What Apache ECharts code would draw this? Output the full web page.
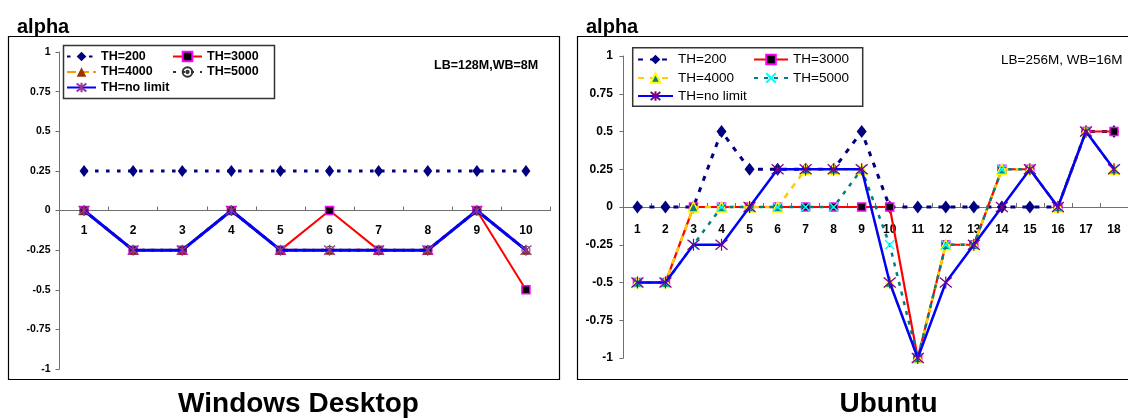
<!DOCTYPE html>
<html>
<head>
<meta charset="utf-8">
<script src="https://cdn.jsdelivr.net/npm/echarts@6/dist/echarts.min.js"></script>
<style>
html,body{margin:0;padding:0;background:#fff;width:1128px;height:418px;overflow:hidden;}
#c1{position:absolute;left:0;top:0;width:570px;height:418px;}
#c2{position:absolute;left:570px;top:0;width:558px;height:418px;}
</style>
</head>
<body>
<div id="c1"></div>
<div id="c2"></div>
<script>
// ---------- data ----------
const seriesNames = ['TH=200', 'TH=3000', 'TH=4000', 'TH=5000', 'TH=no limit'];

const winCategories = ['1', '2', '3', '4', '5', '6', '7', '8', '9', '10'];
const winTH200    = [0.25, 0.25, 0.25, 0.25, 0.25, 0.25, 0.25, 0.25, 0.25, 0.25];
const winTH3000   = [0, -0.25, -0.25, 0, -0.25, 0, -0.25, -0.25, 0, -0.5];
const winTH4000   = [0, -0.25, -0.25, 0, -0.25, -0.25, -0.25, -0.25, 0, -0.25];
const winTH5000   = [0, -0.25, -0.25, 0, -0.25, -0.25, -0.25, -0.25, 0, -0.25];
const winNoLimit  = [0, -0.25, -0.25, 0, -0.25, -0.25, -0.25, -0.25, 0, -0.25];

const ubuCategories = ['1', '2', '3', '4', '5', '6', '7', '8', '9', '10', '11', '12', '13', '14', '15', '16', '17', '18'];
const ubuTH200    = [0, 0, 0, 0.5, 0.25, 0.25, 0.25, 0.25, 0.5, 0, 0, 0, 0, 0, 0, 0, 0.5, 0.5];
const ubuTH3000   = [-0.5, -0.5, 0, 0, 0, 0, 0, 0, 0, 0, -1, -0.25, -0.25, 0.25, 0.25, 0, 0.5, 0.5];
const ubuTH4000   = [-0.5, -0.5, 0, 0, 0, 0, 0.25, 0.25, 0.25, -0.5, -1, -0.25, -0.25, 0.25, 0.25, 0, 0.5, 0.25];
const ubuTH5000   = [-0.5, -0.5, -0.25, 0, 0, 0, 0, 0, 0.25, -0.25, -1, -0.25, -0.25, 0.25, 0.25, 0, 0.5, 0.25];
const ubuNoLimit  = [-0.5, -0.5, -0.25, -0.25, 0, 0.25, 0.25, 0.25, 0.25, -0.5, -1, -0.5, -0.25, 0, 0.25, 0, 0.5, 0.25];

const yMin = -1, yMax = 1, yStep = 0.25;

// ---------- styles ----------
const FONT = '"Liberation Sans", Arial, sans-serif';
const SYM_ASTER = 'path://M5,0L5,10M0.8,0.8L9.2,9.2M9.2,0.8L0.8,9.2';
const SYM_X = 'path://M0,0L10,10M10,0L0,10';
const SYM_CIRCDOT = 'path://M5,0A5,5,0,1,1,4.99,0ZM5,3.8A1.2,1.2,0,1,1,4.99,3.8Z';

function mkSeries(name, data, line, sym, z) {
  return {
    name: name, type: 'line', data: data, z: z,
    symbol: sym.symbol, symbolSize: sym.size, showSymbol: true,
    itemStyle: sym.item,
    lineStyle: line,
    emphasis: {disabled: true},
    animation: false
  };
}

// the x axis sits on y = 0, which is the middle of the symmetric -1..1 range
function axes(cats, gridHeight, labelMargin, yFont, yMargin) {
  return {
    xAxis: {
      type: 'category', data: cats, boundaryGap: true, position: 'bottom',
      offset: -gridHeight * (0 - yMin) / (yMax - yMin),
      axisLine: {onZero: false, lineStyle: {color: '#707070', width: 1}},
      axisTick: {show: true, inside: true, length: 4, lineStyle: {color: '#707070'}},
      axisLabel: {margin: labelMargin, color: '#000', fontWeight: 'bold', fontSize: 12, fontFamily: FONT},
      splitLine: {show: false}
    },
    yAxis: {
      type: 'value', min: yMin, max: yMax, interval: yStep,
      axisLine: {show: true, onZero: false, lineStyle: {color: '#707070', width: 1}},
      axisTick: {show: true, length: 4, lineStyle: {color: '#707070'}},
      axisLabel: {margin: yMargin, color: '#000', fontWeight: 'bold', fontSize: yFont, fontFamily: FONT},
      splitLine: {show: false}
    }
  };
}

function mkLegend(name, left, cy, itemWidth, textStyle) {
  return {
    data: [name], left: left, top: cy - 7, padding: 0, itemWidth: itemWidth, itemHeight: 12,
    selectedMode: false, textStyle: textStyle
  };
}

// ---------- left chart: Windows Desktop ----------
const c1 = echarts.init(document.getElementById('c1'), null, {renderer: 'canvas'});
const ltxt = {fontSize: 12.5, fontWeight: 'bold', color: '#000', fontFamily: FONT};
const G1 = {left: 59.5, top: 52, width: 491, height: 317};
const a1 = axes(winCategories, G1.height, 14, 10.5, 9);
c1.setOption({
  animation: false,
  backgroundColor: 'transparent',
  grid: {left: G1.left, top: G1.top, width: G1.width, height: G1.height, containLabel: false},
  xAxis: a1.xAxis, yAxis: a1.yAxis,
  legend: [
    mkLegend(seriesNames[0], 66, 57, 29, ltxt),
    mkLegend(seriesNames[1], 172, 57, 29, ltxt),
    mkLegend(seriesNames[2], 66, 72.5, 29, ltxt),
    mkLegend(seriesNames[3], 172, 72.5, 29, ltxt),
    mkLegend(seriesNames[4], 66, 88, 29, ltxt)
  ],
  graphic: {elements: [
    {type: 'rect', z: -10, shape: {x: 8.5, y: 36.5, width: 551, height: 343}, style: {fill: 'none', stroke: '#000', lineWidth: 1.2}},
    {type: 'rect', z: -5, shape: {x: 63.5, y: 45.5, width: 211, height: 53}, style: {fill: '#fff', stroke: '#333', lineWidth: 1.5}},
    {type: 'text', x: 17, y: 27, style: {text: 'alpha', fontSize: 20, fontWeight: 'bold', fontFamily: FONT, fill: '#000', verticalAlign: 'middle'}},
    {type: 'text', x: 434, y: 66, style: {text: 'LB=128M,WB=8M', fontSize: 12.5, fontWeight: 'bold', fontFamily: FONT, fill: '#000', verticalAlign: 'middle'}},
    {type: 'text', x: 298.5, y: 404, style: {text: 'Windows Desktop', fontSize: 28, fontWeight: 'bold', fontFamily: FONT, fill: '#000', align: 'center', verticalAlign: 'middle'}}
  ]},
  series: [
    mkSeries(seriesNames[0], winTH200, {color: '#000080', width: 3, type: [3.5, 7.5]},
      {symbol: 'diamond', size: [9, 12], item: {color: '#000080'}}, 2),
    mkSeries(seriesNames[1], winTH3000, {color: '#FF0000', width: 2, type: 'solid'},
      {symbol: 'rect', size: 8, item: {color: '#000', borderColor: '#FF00FF', borderWidth: 1.5}}, 3),
    mkSeries(seriesNames[2], winTH4000, {color: '#FF9900', width: 3, type: [9, 4]},
      {symbol: 'triangle', size: 9, item: {color: '#993300'}}, 4),
    mkSeries(seriesNames[3], winTH5000, {color: '#333333', width: 3, type: [3, 6]},
      {symbol: SYM_CIRCDOT, size: 8, item: {color: 'transparent', borderColor: '#333', borderWidth: 1}}, 5),
    mkSeries(seriesNames[4], winNoLimit, {color: '#0000FF', width: 3, type: 'solid'},
      {symbol: SYM_ASTER, size: 11, item: {color: 'transparent', borderColor: '#993399', borderWidth: 1.3}}, 6)
  ]
});

// ---------- right chart: Ubuntu ----------
const c2 = echarts.init(document.getElementById('c2'), null, {renderer: 'canvas'});
const rtxt = {fontSize: 13.5, fontWeight: 'normal', color: '#000', fontFamily: FONT};
const G2 = {left: 53.4, top: 56, width: 507.6, height: 302};
const a2 = axes(ubuCategories, G2.height, 17, 12, 10.5);
c2.setOption({
  animation: false,
  backgroundColor: 'transparent',
  grid: {left: G2.left, top: G2.top, width: G2.width, height: G2.height, containLabel: false},
  xAxis: a2.xAxis, yAxis: a2.yAxis,
  legend: [
    mkLegend(seriesNames[0], 67, 59.5, 35, rtxt),
    mkLegend(seriesNames[1], 183, 59.5, 34, rtxt),
    mkLegend(seriesNames[2], 67, 78, 35, rtxt),
    mkLegend(seriesNames[3], 183, 78, 34, rtxt),
    mkLegend(seriesNames[4], 67, 96, 35, rtxt)
  ],
  graphic: {elements: [
    {type: 'rect', z: -10, shape: {x: 7.5, y: 36.5, width: 600, height: 343}, style: {fill: 'none', stroke: '#000', lineWidth: 1.2}},
    {type: 'rect', z: -5, shape: {x: 62.7, y: 47.7, width: 230, height: 58.5}, style: {fill: '#fff', stroke: '#333', lineWidth: 1.5}},
    {type: 'text', x: 16, y: 27, style: {text: 'alpha', fontSize: 20, fontWeight: 'bold', fontFamily: FONT, fill: '#000', verticalAlign: 'middle'}},
    {type: 'text', x: 431, y: 60, style: {text: 'LB=256M, WB=16M', fontSize: 13.5, fontFamily: FONT, fill: '#000', verticalAlign: 'middle'}},
    {type: 'text', x: 318.5, y: 404, style: {text: 'Ubuntu', fontSize: 28, fontWeight: 'bold', fontFamily: FONT, fill: '#000', align: 'center', verticalAlign: 'middle'}}
  ]},
  series: [
    mkSeries(seriesNames[0], ubuTH200, {color: '#000080', width: 3, type: [5, 7]},
      {symbol: 'diamond', size: [10, 13], item: {color: '#000080'}}, 2),
    mkSeries(seriesNames[1], ubuTH3000, {color: '#FF0000', width: 2.2, type: 'solid'},
      {symbol: 'rect', size: 8, item: {color: '#000', borderColor: '#FF00FF', borderWidth: 1.5}}, 3),
    mkSeries(seriesNames[2], ubuTH4000, {color: '#FFCC00', width: 2.5, type: [6, 6]},
      {symbol: 'triangle', size: 10, item: {color: '#008080', borderColor: '#FFFF00', borderWidth: 1.5}}, 4),
    mkSeries(seriesNames[3], ubuTH5000, {color: '#008080', width: 2.5, type: [4, 6]},
      {symbol: SYM_X, size: 9, item: {color: 'transparent', borderColor: '#00FFFF', borderWidth: 1.5}}, 5),
    mkSeries(seriesNames[4], ubuNoLimit, {color: '#0000FF', width: 2.5, type: 'solid'},
      {symbol: SYM_ASTER, size: 12, item: {color: 'transparent', borderColor: '#800080', borderWidth: 1.2}}, 6)
  ]
});
</script>
</body>
</html>
